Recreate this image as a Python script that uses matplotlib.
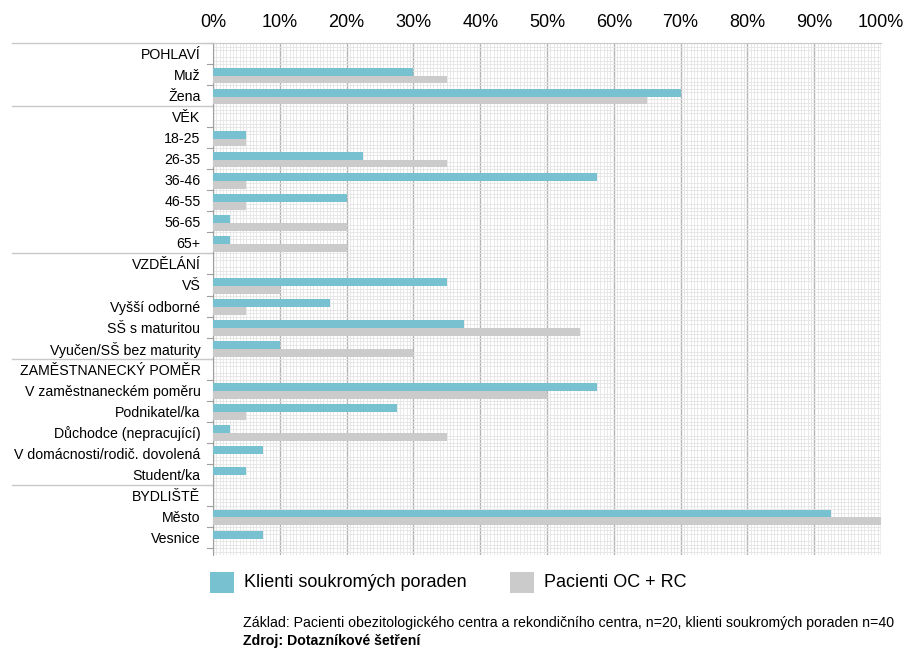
import numpy as np
import matplotlib
matplotlib.use('Agg')
import matplotlib.pyplot as plt
from matplotlib.patches import Rectangle
from matplotlib.lines import Line2D

plt.rcParams['font.family'] = ['Liberation Sans', 'DejaVu Sans']

# row labels top to bottom, section headers included
labels = ['POHLAVÍ', 'Muž', 'Žena',
          'VĚK', '18-25', '26-35', '36-46', '46-55', '56-65', '65+',
          'VZDĚLÁNÍ', 'VŠ', 'Vyšší odborné', 'SŠ s maturitou', 'Vyučen/SŠ bez maturity',
          'ZAMĚSTNANECKÝ POMĚR', 'V zaměstnaneckém poměru', 'Podnikatel/ka',
          'Důchodce (nepracující)', 'V domácnosti/rodič. dovolená', 'Student/ka',
          'BYDLIŠTĚ', 'Město', 'Vesnice']

# percentages per row (header rows are 0)
klienti = [0, 30, 70,
           0, 5, 22.5, 57.5, 20, 2.5, 2.5,
           0, 35, 17.5, 37.5, 10,
           0, 57.5, 27.5, 2.5, 7.5, 5,
           0, 92.5, 7.5]
pacienti = [0, 35, 65,
            0, 5, 35, 5, 5, 20, 20,
            0, 10, 5, 55, 30,
            0, 50, 5, 35, 0, 0,
            0, 100, 0]

# rows after which a section ends
section_ends = [2, 9, 14, 20]

series_names = ['Klienti soukromých poraden', 'Pacienti OC + RC']
blue = '#78c1d0'
grey = '#cbcbcb'

fig = plt.figure(figsize=(9.04, 6.49), dpi=100)
ax = fig.add_axes([0.2356, 0.1448, 0.7390, 0.7889])

y = np.arange(len(labels))
ax.barh(y - 0.14, klienti, height=0.38, color=blue, zorder=3)
ax.barh(y + 0.23, pacienti, height=0.37, color=grey, zorder=3)

ax.set_xlim(0, 100)
ax.set_ylim(len(labels) - 0.5, -0.5)

# percent ticks on top
ax.xaxis.tick_top()
ax.set_xticks(np.arange(0, 101, 10))
ax.set_xticklabels([f'{v}%' for v in range(0, 101, 10)], fontsize=13)
ax.set_xticks(np.arange(0, 100.1, 0.5), minor=True)
ax.tick_params(axis='x', which='both', length=0, pad=9)

ax.set_yticks(y)
ax.set_yticklabels(labels, fontsize=10.2)
ax.set_yticks(np.arange(-0.5, len(labels), 1.0 / 6), minor=True)
ax.tick_params(axis='y', which='major', length=0, pad=9)
ax.tick_params(axis='y', which='minor', length=0)

# graph paper background
ax.grid(which='minor', color='#e4e4e4', linewidth=0.6, zorder=0)
ax.grid(which='major', axis='x', color='#b4b4b4', linewidth=1.0, zorder=1)
ax.set_axisbelow(True)

for s in ['right', 'bottom']:
    ax.spines[s].set_visible(False)
ax.spines['left'].set_color('#a0a0a0')
ax.spines['top'].set_color('#c8c8c8')

# small ticks at row boundaries on the left
for b in np.arange(-0.5, len(labels), 1):
    ax.add_line(Line2D([-0.9, 0], [b, b], color='#a0a0a0', lw=0.8,
                       clip_on=False, transform=ax.transData))

# section separators across the label area
sep_x0 = (12 / 904 - 0.2356) / 0.7390
for b in [-0.5] + [r + 0.5 for r in section_ends]:
    yy = ax.transLimits.transform((0, b))[1]
    ax.add_line(Line2D([sep_x0, 0], [yy, yy], color='#c8c8c8', lw=1.0,
                       clip_on=False, transform=ax.transAxes))

# legend: colour squares with names below the chart
leg_x = [0.2323, 0.5642]
for x0, col, name in zip(leg_x, [blue, grey], series_names):
    fig.patches.append(Rectangle((x0, 0.0863), 0.0265, 0.0324, facecolor=col,
                                 edgecolor='none', transform=fig.transFigure))
    fig.text(x0 + 0.0376, 0.1017, name, fontsize=13, va='center')

fig.text(0.2688, 0.0339, 'Základ: Pacienti obezitologického centra a rekondičního centra, '
         'n=20, klienti soukromých poraden n=40', fontsize=10.2, va='baseline')
fig.text(0.2688, 0.0062, 'Zdroj: Dotazníkové šetření', fontsize=10.2,
         fontweight='bold', va='baseline')

fig.savefig('out.png', dpi=100, facecolor='white')
